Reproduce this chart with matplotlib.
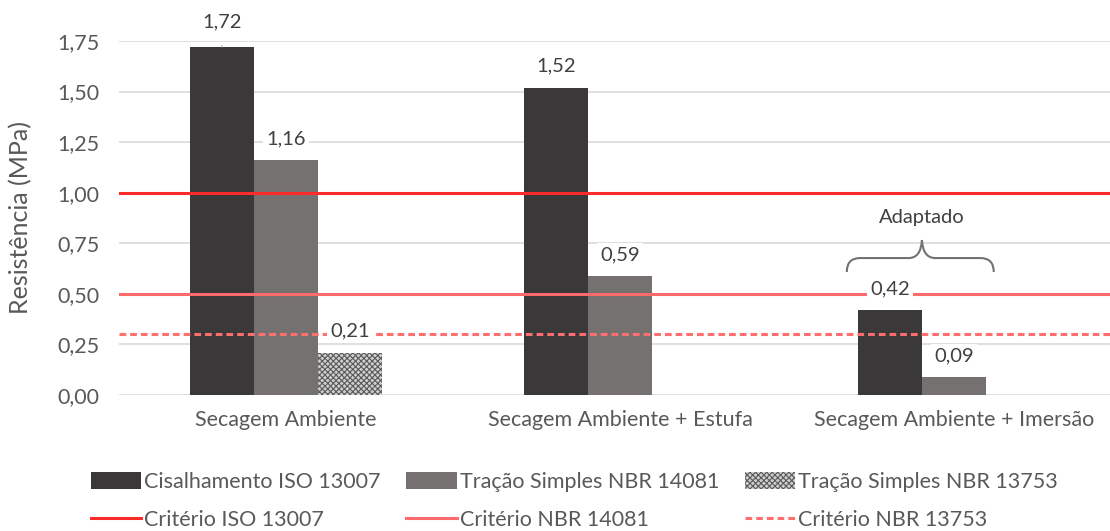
import matplotlib.pyplot as plt
import numpy as np
from matplotlib.path import Path
from matplotlib.patches import PathPatch, Patch
from matplotlib.lines import Line2D

plt.rcParams['font.family'] = ['Lato', 'DejaVu Sans']
plt.rcParams['hatch.linewidth'] = 0.8

categories = ["Secagem Ambiente", "Secagem Ambiente + Estufa", "Secagem Ambiente + Imersão"]
series_names = ["Cisalhamento ISO 13007", "Tração Simples NBR 14081", "Tração Simples NBR 13753"]
cisalhamento = [1.72, 1.52, 0.42]
tracao_14081 = [1.16, 0.59, 0.09]
tracao_13753 = [0.21, None, None]
criterios = [1.00, 0.50, 0.30]
criterio_names = ["Critério ISO 13007", "Critério NBR 14081", "Critério NBR 13753"]
yticks = [0, 0.25, 0.5, 0.75, 1.0, 1.25, 1.5, 1.75]

text_col = "#595959"
bar_colors = ["#3A3838", "#767171", "#D0CECE"]
line_colors = ["#FF2B2B", "#FF6B6B", "#FF6F6F"]
line_styles = ["-", "-", (0, (2.2, 1.3))]

fig = plt.figure(figsize=(11.1, 5.31), dpi=100)
ax = fig.add_axes([119 / 1110, 136 / 531, 991 / 1110, 354 / 531])

x = np.arange(len(categories))
w = 0.192
all_series = [cisalhamento, tracao_14081, tracao_13753]

for i, vals in enumerate(all_series):
    for j, v in enumerate(vals):
        if v is None:
            continue
        xp = x[j] + (i - 1) * w
        if i == 2:
            ax.bar(xp, v, w, color=bar_colors[i], edgecolor="#595959", hatch="xxxxxx",
                   linewidth=0, zorder=2)
        else:
            ax.bar(xp, v, w, color=bar_colors[i], linewidth=0, zorder=2)
        lab = f"{v:.2f}".replace(".", ",")
        box = dict(facecolor="white", edgecolor="none", pad=2)
        if i == 0 and j == 0:
            ax.annotate(lab, xy=(xp, v), xytext=(xp, v + 0.125), ha="center", va="center",
                        fontsize=14.5, color="#404040", bbox=box, zorder=5,
                        arrowprops=dict(arrowstyle="-", color="#A6A6A6", lw=0.8,
                                        shrinkA=9, shrinkB=0),
                        annotation_clip=False)
        else:
            ax.text(xp, v + 0.105, lab, ha="center", va="center", fontsize=14.5,
                    color="#404040", bbox=box, zorder=5)

for c, col, ls in zip(criterios, line_colors, line_styles):
    ax.axhline(c, color=col, lw=2.2, ls=ls, zorder=3)

# brace over the "Imersão" group
xc = x[2] - w / 2
x0, x1 = xc - 0.225, xc + 0.215
yb, ym, yt = 0.608, 0.677, 0.766
r = 0.04
verts = [(x0, yb), (x0, ym), (x0 + r, ym),
         (xc - r, ym), (xc - 0.003, ym), (xc, yt),
         (xc + 0.003, ym), (xc + r, ym),
         (x1 - r, ym), (x1, ym), (x1, yb)]
codes = [Path.MOVETO, Path.CURVE3, Path.CURVE3,
         Path.LINETO, Path.CURVE3, Path.CURVE3,
         Path.CURVE3, Path.CURVE3,
         Path.LINETO, Path.CURVE3, Path.CURVE3]
ax.add_patch(PathPatch(Path(verts, codes), facecolor="none", edgecolor="#767171", lw=1.5, zorder=4))
ax.text(xc, 0.875, "Adaptado", ha="center", va="center", fontsize=14.5, color="#404040")

ax.set_xlim(-0.5, -0.5 + 991 / 334)
ax.set_ylim(0, 1.75)
ax.set_yticks(yticks)
ax.set_yticklabels([f"{t:.2f}".replace(".", ",") for t in yticks])
ax.set_xticks(x)
ax.set_xticklabels(categories)
ax.tick_params(axis="both", length=0, colors=text_col, labelsize=15.5)
ax.tick_params(axis="y", pad=14)
ax.tick_params(axis="x", pad=11)
ax.grid(axis="y", color="#D9D9D9", lw=1.2, zorder=0)
ax.set_axisbelow(True)
for s in ax.spines.values():
    s.set_visible(False)
ax.set_ylabel("Resistência (MPa)", fontsize=18, color=text_col)
ax.yaxis.set_label_coords(-0.087, 0.5)

handles = []
labels = []
for i in range(3):
    if i == 2:
        handles.append(Patch(facecolor=bar_colors[i], edgecolor="#595959", hatch="xxxxxx", lw=0))
    else:
        handles.append(Patch(facecolor=bar_colors[i], lw=0))
    labels.append(series_names[i])
    handles.append(Line2D([], [], color=line_colors[i], lw=2.2, ls=line_styles[i]))
    labels.append(criterio_names[i])

fig.legend(handles, labels, ncol=3, loc="upper left", bbox_to_anchor=(80 / 1110, 1 - 461 / 531),
           frameon=False, fontsize=15.5, handlelength=2.33, handleheight=0.8, handletextpad=0.15,
           columnspacing=1.2, labelspacing=0.85, borderpad=0, labelcolor=text_col)

fig.savefig("out.png", dpi=100)
